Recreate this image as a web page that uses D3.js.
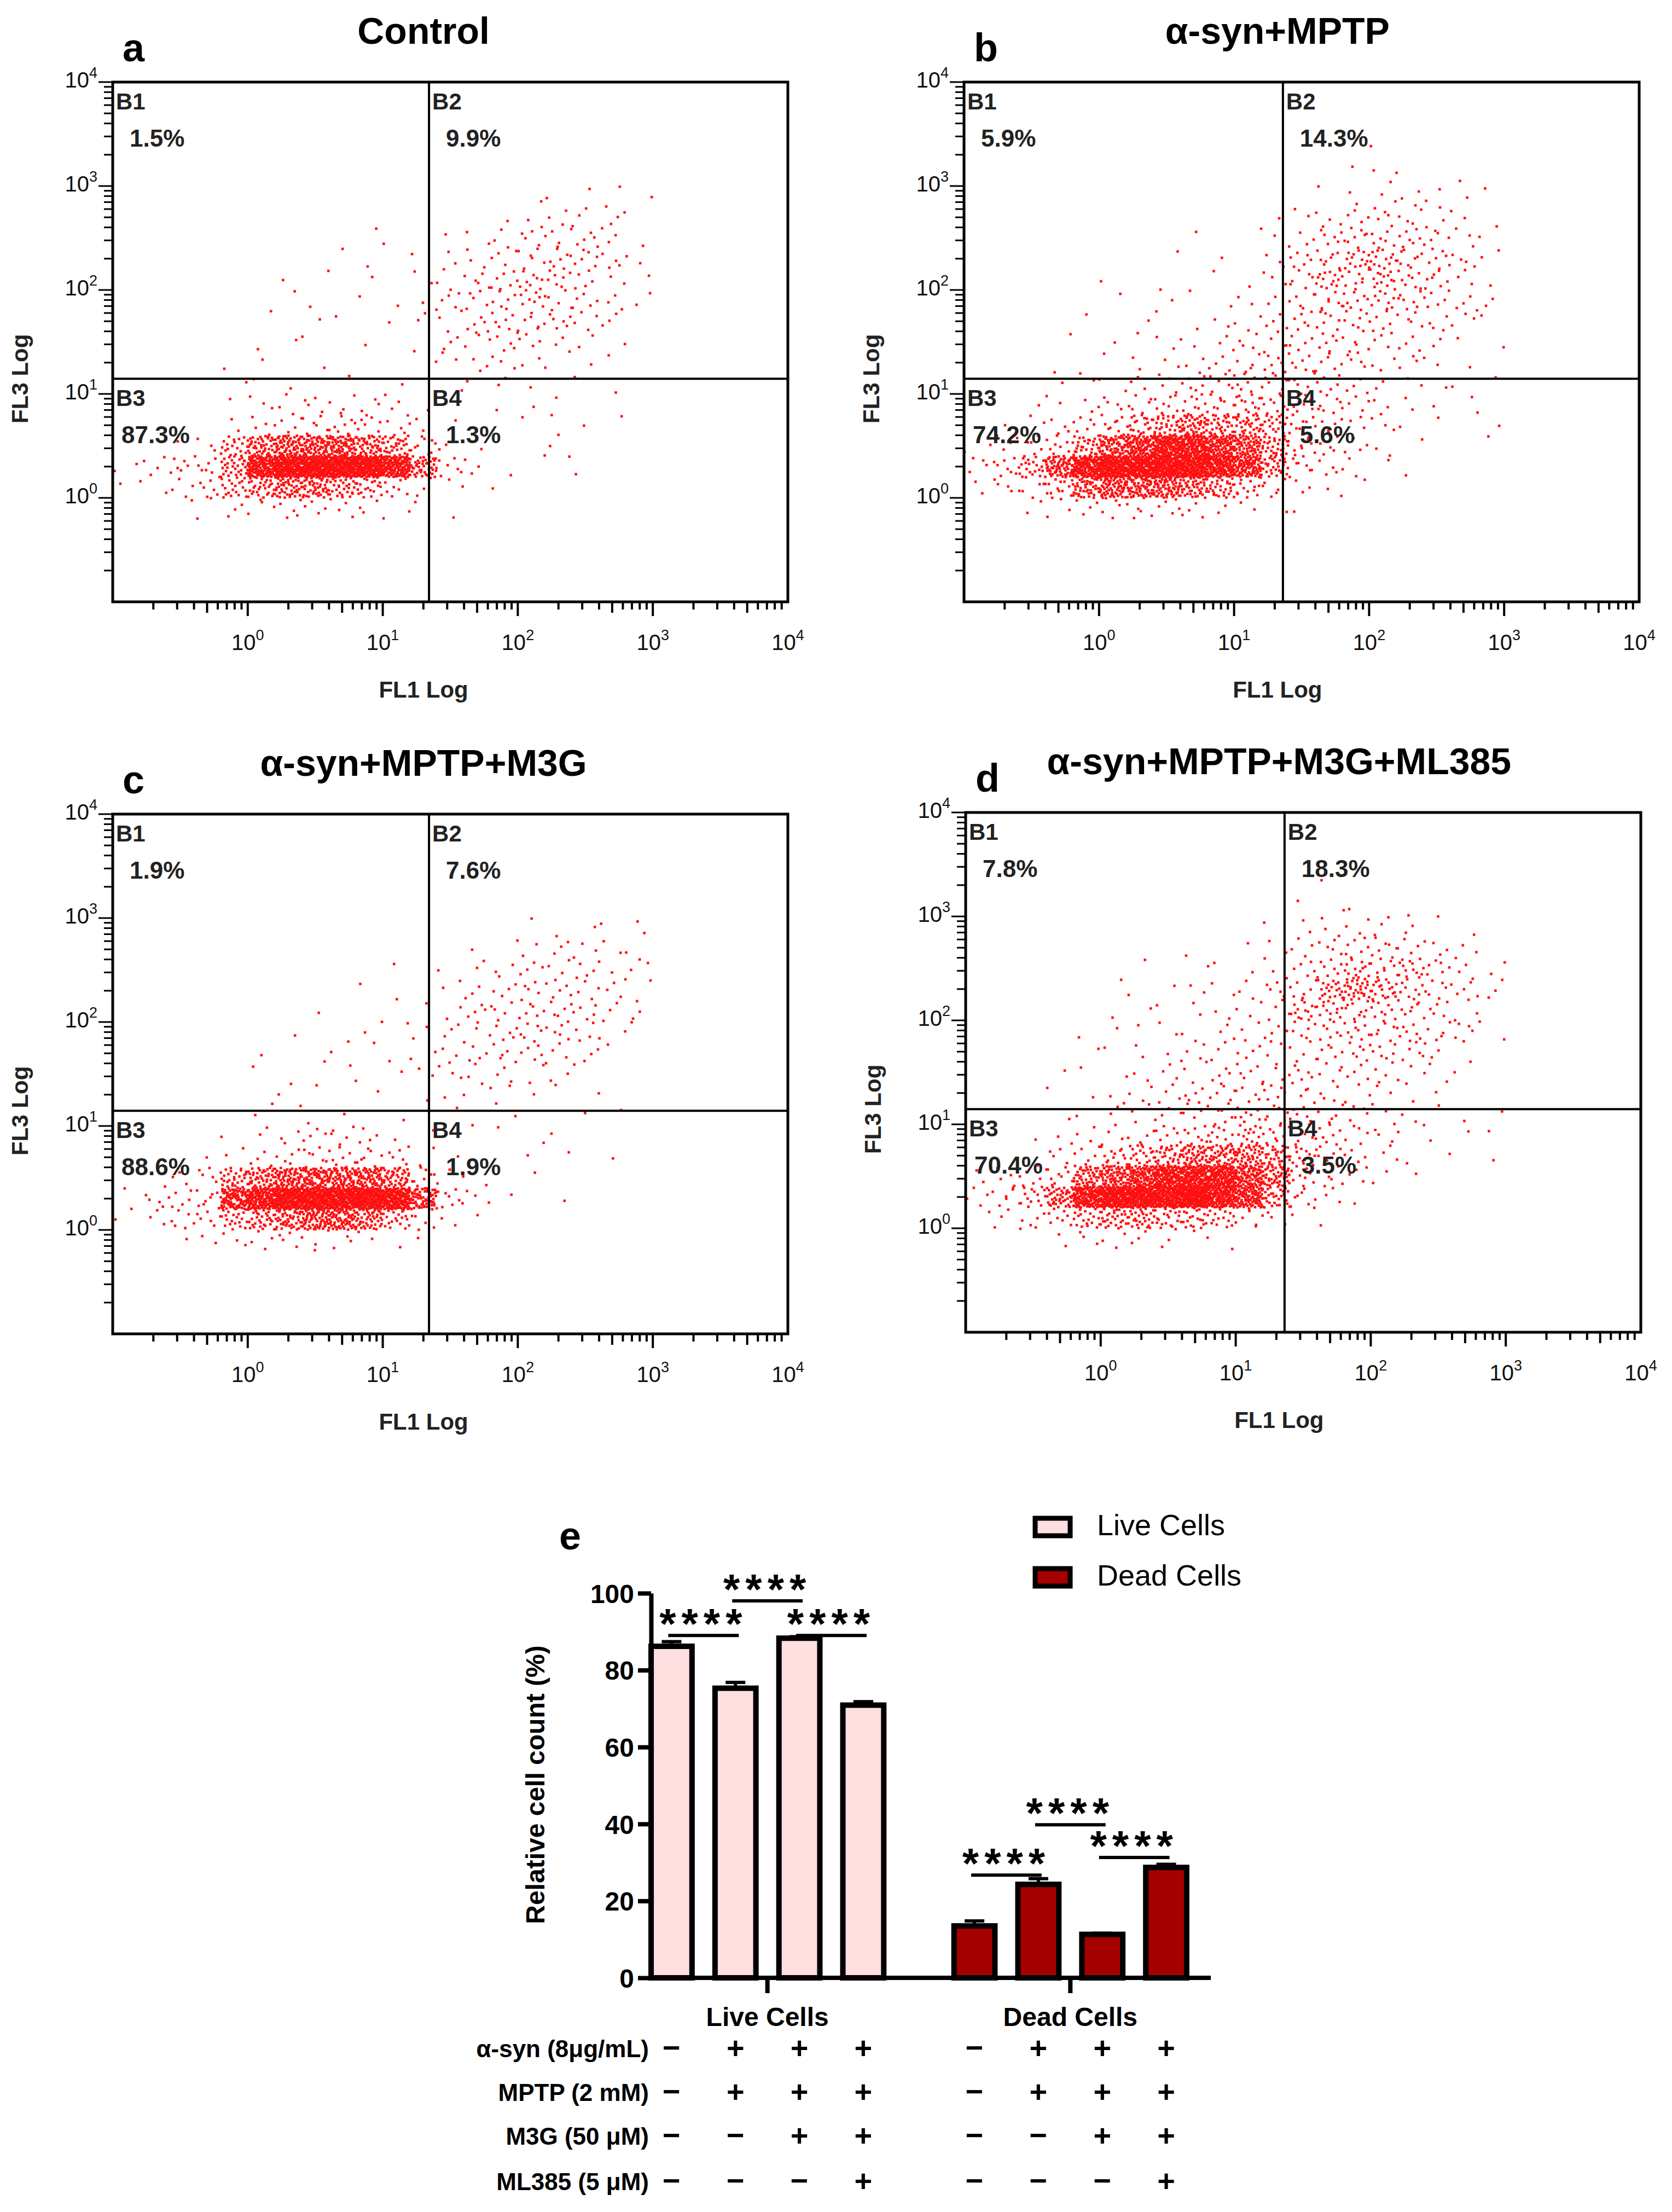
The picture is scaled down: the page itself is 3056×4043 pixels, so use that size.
<!DOCTYPE html>
<html><head><meta charset="utf-8">
<script src="https://cdn.jsdelivr.net/npm/d3@7"></script>
<style>body{margin:0;background:#fff}text{font-family:Arial,"Liberation Sans",sans-serif}</style>
</head><body>
<svg id="c" width="3056" height="4043"></svg>
<script>
// ---------- DATA ----------
const panelTitles = ["Control","α-syn+MPTP","α-syn+MPTP+M3G","α-syn+MPTP+M3G+ML385"];
const panelLetters = ["a","b","c","d"];
const quadPct = [["1.5%","9.9%","87.3%","1.3%"],["5.9%","14.3%","74.2%","5.6%"],["1.9%","7.6%","88.6%","1.9%"],["7.8%","18.3%","70.4%","3.5%"]];
const gateX = [22,23,22,23];      // FL1 gate value
const gateY = [14,14,14,14];      // FL3 gate value
// density of events: rows = FL3 log bins of 0.2 decade from 10^4 downward, columns = FL1 log bins of 0.2 decade from 10^-1
// code: digits = count, a=14 b=20 c=30 d=45 e=65 f=90 g=130 h=180
const densA = ["","","","","","00000000000000011121","0000000000000012333","00000000011012345531","00000000110123467642","00000011010235787521","00000011011245686532","0000010110123567643","0000011101013454321","0000110100012332111","0000111010101121011","000013344331001110","0000245687531001211","0013bdeeedc93101100","2468cghhhhgd6310110","1246bcddcb83201","0012345443211"];
const densB = ["","","","000000000000000100","0000000000000012101","00000000000001223211","00000000000124454321","00000000100246877531","00000001010368aa9742","0000010101136a9a8731","00000101112258997642","00001011123467765431","00010112234556544211","0001012234567653321","00012234667876422111","0012346899a987532111","012469bcdccb96431101","2469cefggfec96421001","48beghhhhgfc84311","246adeeedca6321","0023455542211"];
const densC = ["","","","","","00000000000000011112","00000000000001123322","00000000001012344432","00000000011023455432","00000001010124566532","00000010111234565421","0000010111123455431","000001101112333221","0000011101011221101","0000011110101110011","000012345421001110","0001245787521001101","0135cdeeeed93101","2468fghhhhhe83101","1357bcdeedb6210","001234443211"];
const densD = ["","","","00000000000001","00000000000011101","0000000000012333211","0000000010124577532","00000010111358a9a642","0000011122357bcb9743","000001112234aa99853","00001112233467987542","0000112233445676532","0001112334555544321","000112345666543221","00011234577765432111","0012345799a987532111","01246abcdddca6431101","2469defgggfd96421","47adghhhhgfc731","1358bccbba7321","0012333321"];
const densities = [densA, densB, densC, densD];
const decadeTicks = [0,1,2,3,4];

// bar chart
const groups = ["Live Cells","Dead Cells"];
const liveMeans = [86.2, 75.3, 88.3, 70.9];
const liveErr = [1.2, 1.5, 0.4, 0.9];
const deadMeans = [13.5, 24.3, 11.3, 28.7];
const deadErr = [1.3, 1.5, 0.3, 0.8];
const seriesColors = ["#ffdfdf","#a50000"];
const barTicks = [0,20,40,60,80,100];
// brackets: [group, from, to, height(%)]
const brackets = [[0,0,1,89],[0,2,3,89],[0,1,2,98],[1,0,1,26.7],[1,2,3,31.3],[1,1,2,39.8]];
const rowLabels = ["α-syn (8μg/mL)","MPTP (2 mM)","M3G (50 μM)","ML385 (5 μM)"];
const treatment = [["−","+","+","+"],["−","+","+","+"],["−","−","+","+"],["−","−","−","+"]];

// ---------- DRAW ----------
const svg = d3.select("#c");
const boxes = [[206,150],[1762,150],[206,1488],[1765,1485]];
const BW = 1234, BH = 950;
const codeMap = {a:14,b:20,c:30,d:45,e:65,f:90,g:130,h:180};
function halton(i,b){let f=1,r=0;while(i>0){f/=b;r+=f*(i%b);i=Math.floor(i/b);}return r;}

panelTitles.forEach((title,p)=>{
  const [x0,y0] = boxes[p];
  const g = svg.append("g").attr("transform",`translate(${x0},${y0})`);
  const x = d3.scaleLog().domain([0.1,1e4]).range([0,BW]);
  const y = d3.scaleLog().domain([0.1,1e4]).range([BH,0]);
  const pts = [];
  densities[p].forEach((row,r)=>{
    for(let c=0;c<row.length;c++){
      const ch=row[c]; const n = ch>="0"&&ch<="9" ? +ch : (codeMap[ch]||0);
      const base = (r*29+c*11+p*5)*7+1;
      for(let k=0;k<n;k++){
        const lx = -1 + 0.2*(c + halton(base+k,2));
        const ly = 4 - 0.2*(r + halton(base+k,3));
        pts.push([Math.pow(10,lx),Math.pow(10,ly)]);
      }
    }
  });
  g.append("g").selectAll("rect").data(pts).join("rect")
    .attr("x",d=>x(d[0])-2.3).attr("y",d=>y(d[1])-2.3).attr("width",4.6).attr("height",4.6).attr("fill","#ff1010");
  g.append("rect").attr("width",BW).attr("height",BH).attr("fill","none").attr("stroke","#000").attr("stroke-width",5);
  g.append("line").attr("x1",x(gateX[p])).attr("x2",x(gateX[p])).attr("y1",0).attr("y2",BH).attr("stroke","#000").attr("stroke-width",4);
  g.append("line").attr("x1",0).attr("x2",BW).attr("y1",y(gateY[p])).attr("y2",y(gateY[p])).attr("stroke","#000").attr("stroke-width",4);
  const minor = [];
  for(let e=-1;e<4;e++) for(let m=1;m<10;m++){const v=m*Math.pow(10,e); if(v>0.1&&v<1e4) minor.push(v);}
  const isMajor = d=>[1,10,100,1000].includes(Math.round(d*1000)/1000);
  const xa = g.append("g").attr("transform",`translate(0,${BH})`);
  xa.selectAll("line").data(minor).join("line").attr("x1",d=>x(d)).attr("x2",d=>x(d)).attr("y1",0)
    .attr("y2",d=>isMajor(d)?26:(Math.round(d/Math.pow(10,Math.floor(Math.log10(d)+1e-9)))===5?20:14)).attr("stroke","#000").attr("stroke-width",4);
  const ya = g.append("g");
  ya.selectAll("line").data(minor).join("line").attr("y1",d=>y(d)).attr("y2",d=>y(d)).attr("x1",0)
    .attr("x2",d=>isMajor(d)?-26:-16).attr("stroke","#000").attr("stroke-width",3);
  ya.append("line").attr("x1",-26).attr("x2",0).attr("y1",0).attr("y2",0).attr("stroke","#000").attr("stroke-width",3);
  decadeTicks.forEach(e=>{
    const t = xa.append("text").attr("x",x(Math.pow(10,e))).attr("y",88).attr("text-anchor","middle").attr("font-size",40).attr("fill","#111");
    t.append("tspan").text("10"); t.append("tspan").attr("dy",-18).attr("font-size",27).text(e);
    const t2 = ya.append("text").attr("x",-28).attr("y",y(Math.pow(10,e))+10).attr("text-anchor","end").attr("font-size",40).attr("fill","#111");
    t2.append("tspan").text("10"); t2.append("tspan").attr("dy",-18).attr("font-size",27).text(e);
  });
  g.append("text").attr("x",x(gateX[p])-10).attr("y",BH+175).attr("text-anchor","middle").attr("font-size",42).attr("font-weight","bold").attr("fill","#222").text("FL1 Log");
  g.append("text").attr("transform",`translate(-155,${y(gateY[p])}) rotate(-90)`).attr("text-anchor","middle").attr("font-size",42).attr("font-weight","bold").attr("fill","#222").text("FL3 Log");
  g.append("text").attr("x",x(gateX[p])-10).attr("y",-70).attr("text-anchor","middle").attr("font-size",68).attr("font-weight","bold").text(title);
  g.append("text").attr("x",18).attr("y",-38).attr("font-size",72).attr("font-weight","bold").text(panelLetters[p]);
  const gx = x(gateX[p]), gy = y(gateY[p]);
  const q = [[6,0,"B1"],[gx+6,0,"B2"],[6,gy,"B3"],[gx+6,gy,"B4"]];
  q.forEach((d,i)=>{
    g.append("text").attr("x",d[0]).attr("y",d[1]+50).attr("font-size",42).attr("font-weight","bold").attr("fill","#222").text(d[2]);
    g.append("text").attr("x",d[0]+(i===2?10:25)).attr("y",d[1]+118).attr("font-size",44).attr("font-weight","bold").attr("fill","#222").text(quadPct[p][i]);
  });
});

// ---------- BAR CHART ----------
const bg = svg.append("g");
const yb = d3.scaleLinear().domain([0,100]).range([3615,2912]);
const xg = d3.scaleBand().domain(groups).range([1148,2211]).paddingInner(0.08);
const xi = d3.scaleBand().domain([0,1,2,3]).range([0,xg.bandwidth()]).padding(0.36);
const barData = [];
groups.forEach((gname,gi)=>{const m = gi?deadMeans:liveMeans, e = gi?deadErr:liveErr;
  m.forEach((v,i)=>barData.push({g:gname,gi,i,v,e:e[i]}));});
const cx = d=> xg(d.g)+xi(d.i)+xi.bandwidth()/2;
bg.selectAll(".eb").data(barData).join("line").attr("x1",cx).attr("x2",cx).attr("y1",d=>yb(d.v)).attr("y2",d=>yb(d.v+d.e)).attr("stroke","#000").attr("stroke-width",6);
bg.selectAll(".ec").data(barData).join("line").attr("x1",d=>cx(d)-18).attr("x2",d=>cx(d)+18).attr("y1",d=>yb(d.v+d.e)).attr("y2",d=>yb(d.v+d.e)).attr("stroke","#000").attr("stroke-width",6);
bg.selectAll(".bar").data(barData).join("rect").attr("x",d=>xg(d.g)+xi(d.i)).attr("width",xi.bandwidth())
  .attr("y",d=>yb(d.v)).attr("height",d=>yb(0)-yb(d.v)).attr("fill",d=>seriesColors[d.gi]).attr("stroke","#000").attr("stroke-width",10);
const yAx = bg.append("g").attr("transform","translate(1190,0)").call(d3.axisLeft(yb).tickValues(barTicks).tickSize(24).tickSizeOuter(0));
yAx.select(".domain").attr("stroke-width",8); yAx.selectAll(".tick line").attr("stroke-width",8);
yAx.selectAll("text").attr("font-size",48).attr("font-weight","bold").attr("font-family","Arial").attr("dx",-4).attr("dy","0.36em");
const xAx = bg.append("g").attr("transform","translate(0,3615)");
xAx.append("line").attr("x1",1186).attr("x2",2213).attr("stroke","#000").attr("stroke-width",8);
groups.forEach(gn=>{
  const c = xg(gn)+xg.bandwidth()/2;
  xAx.append("line").attr("x1",c).attr("x2",c).attr("y1",0).attr("y2",28).attr("stroke","#000").attr("stroke-width",8);
  xAx.append("text").attr("x",c).attr("y",88).attr("text-anchor","middle").attr("font-size",48).attr("font-weight","bold").text(gn);
});
bg.append("text").attr("transform","translate(995,3262) rotate(-90)").attr("text-anchor","middle").attr("font-size",48).attr("font-weight","bold").text("Relative cell count (%)");
bg.append("text").attr("x",1022).attr("y",2832).attr("font-size",72).attr("font-weight","bold").text("e");
brackets.forEach(([gi,a,b,h])=>{
  const gn = groups[gi];
  const xa1 = xg(gn)+xi(a)+xi.bandwidth()/2, xb1 = xg(gn)+xi(b)+xi.bandwidth()/2;
  bg.append("line").attr("x1",xa1-6).attr("x2",xb1+6).attr("y1",yb(h)).attr("y2",yb(h)).attr("stroke","#000").attr("stroke-width",6);
  bg.append("text").attr("x",(xa1+xb1)/2).attr("y",yb(h)+6).attr("text-anchor","middle").attr("font-size",78).attr("font-weight","bold").attr("letter-spacing",10).text("****");
});
groups.forEach((gn,i)=>{
  bg.append("rect").attr("x",1892).attr("y",2775+i*92).attr("width",64).attr("height",32).attr("fill",seriesColors[i]).attr("stroke","#000").attr("stroke-width",9);
  bg.append("text").attr("x",2005).attr("y",2806+i*92).attr("font-size",54).text(gn);
});
const rowY = [3744,3824,3904,3987];
rowLabels.forEach((lab,r)=>{
  bg.append("text").attr("x",1186).attr("y",rowY[r]+16).attr("text-anchor","end").attr("font-size",44).attr("font-weight","bold").text(lab);
  groups.forEach(gn=>{
    treatment[r].forEach((s,i)=>{
      bg.append("text").attr("x",xg(gn)+xi(i)+xi.bandwidth()/2).attr("y",rowY[r]+18).attr("text-anchor","middle").attr("font-size",56).attr("font-weight","bold").text(s);
    });
  });
});
</script>
</body></html>
